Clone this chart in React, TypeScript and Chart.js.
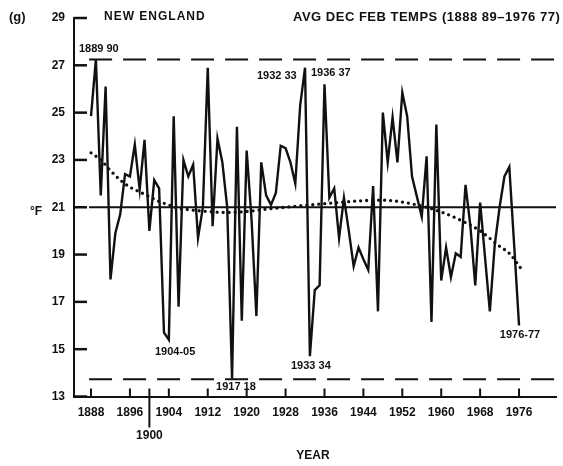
import React, { useEffect, useRef } from "react";
import { Chart, registerables } from "chart.js";

Chart.register(...registerables);

// ---------- data ----------
const FIRST_WINTER = 1888; // 1888-89 winter
const TEMPS = [
  24.85, 27.25, 21.5, 26.1, 17.95, 19.9, 20.7, 22.4, 22.3, 23.65,
  21.75, 23.85, 20.0, 22.15, 21.8, 15.7, 15.4, 24.85, 16.8, 23.0,
  22.3, 22.8, 19.7, 21.0, 26.9, 20.2, 23.9, 22.9, 21.0, 13.75,
  24.4, 16.2, 23.4, 20.5, 16.4, 22.9, 21.5, 21.1, 21.6, 23.6,
  23.5, 22.9, 22.0, 25.3, 26.9, 14.7, 17.5, 17.7, 26.2, 21.4,
  21.8, 19.7, 21.4, 20.0, 18.5, 19.3, 18.8, 18.35, 21.9, 16.6,
  25.0, 22.9, 24.8, 22.9, 25.85, 24.85, 22.3, 21.45, 20.6, 23.15,
  16.15, 24.5, 17.9, 19.3, 18.05, 19.05, 18.9, 21.95, 20.2, 17.7,
  21.2, 18.9, 16.6, 19.4, 21.0, 22.3, 22.7, 19.4, 16.0,
];
const TREND_YEARS = [
  1888, 1890, 1892, 1894, 1896, 1898, 1900, 1902, 1904, 1906, 1908, 1912,
  1916, 1920, 1924, 1928, 1932, 1936, 1940, 1944, 1948, 1952, 1956, 1960,
  1964, 1968, 1972, 1974, 1976.8,
];
const TREND_VALUES = [
  23.3, 23.0, 22.55, 22.15, 21.85, 21.65, 21.45, 21.25, 21.1, 20.95, 20.9, 20.82,
  20.78, 20.82, 20.92, 21.0, 21.08, 21.15, 21.22, 21.28, 21.3, 21.22, 21.05, 20.8,
  20.45, 20.0, 19.35, 19.05, 18.3,
];
const MEAN_TEMP = 21.0;
const RECORD_HIGH = 27.25;
const RECORD_LOW = 13.73;
const X_TICKS = [1888, 1896, 1904, 1912, 1920, 1928, 1936, 1944, 1952, 1960, 1968, 1976];
const Y_TICKS = [13, 15, 17, 19, 21, 23, 25, 27, 29];
const MARK_YEAR = 1900;
const LABELS = [
  { text: "1889 90", year: 1889.6, temp: 27.67 },
  { text: "1932 33", year: 1926.2, temp: 26.55 },
  { text: "1936 37", year: 1937.3, temp: 26.68 },
  { text: "1904-05", year: 1905.3, temp: 14.88 },
  { text: "1917 18", year: 1917.8, temp: 13.4 },
  { text: "1933 34", year: 1933.2, temp: 14.29 },
  { text: "1976-77", year: 1976.2, temp: 15.6 },
];
const PANEL = "(g)";
const REGION = "NEW ENGLAND";
const TITLE = "AVG DEC FEB TEMPS (1888 89\u20131976 77)";
const X_TITLE = "YEAR";
const Y_TITLE = "\u00b0F";

// ---------- style ----------
const INK = "#111111";
const FONT = "'Liberation Sans', Arial, sans-serif";
const X_MIN = 1884.5;
const X_MAX = 1983.6;

const decor = {
  id: "decor",
  afterDraw(chart: any) {
    const { ctx, chartArea, scales } = chart;
    const x = scales.x;
    const y = scales.y;
    ctx.save();
    ctx.strokeStyle = INK;
    ctx.fillStyle = INK;
    ctx.lineCap = "butt";

    // inner y ticks
    ctx.lineWidth = 2.5;
    Y_TICKS.forEach((v) => {
      const py = y.getPixelForValue(v);
      ctx.beginPath();
      ctx.moveTo(chartArea.left, py);
      ctx.lineTo(chartArea.left + 13, py);
      ctx.stroke();
    });
    // inner x ticks
    ctx.lineWidth = 2;
    X_TICKS.forEach((v) => {
      const px = x.getPixelForValue(v);
      ctx.beginPath();
      ctx.moveTo(px, chartArea.bottom);
      ctx.lineTo(px, chartArea.bottom - 8);
      ctx.stroke();
    });
    // 1900 marker
    const pm = x.getPixelForValue(MARK_YEAR);
    ctx.beginPath();
    ctx.moveTo(pm, chartArea.bottom - 8);
    ctx.lineTo(pm, chartArea.bottom + 31);
    ctx.stroke();

    ctx.textAlign = "center";
    ctx.textBaseline = "middle";
    ctx.font = `bold 12px ${FONT}`;
    ctx.fillText(String(MARK_YEAR), pm, 436);
    ctx.fillText(X_TITLE, 313, 456);

    // annotations
    ctx.font = `bold 11px ${FONT}`;
    LABELS.forEach((l) => {
      ctx.fillText(l.text, x.getPixelForValue(l.year), y.getPixelForValue(l.temp));
    });

    // titles
    ctx.textAlign = "left";
    ctx.font = `bold 13px ${FONT}`;
    ctx.fillText(PANEL, 9, 17);
    ctx.font = `bold 12px ${FONT}`;
    (ctx as any).letterSpacing = "1px";
    ctx.fillText(REGION, 104, 17);
    ctx.font = `bold 13px ${FONT}`;
    (ctx as any).letterSpacing = "0.5px";
    ctx.fillText(TITLE, 293, 17);
    (ctx as any).letterSpacing = "0px";
    ctx.font = `bold 12px ${FONT}`;
    ctx.fillText(Y_TITLE, 30, 212);
    ctx.restore();
  },
};

export default function App() {
  const ref = useRef<HTMLCanvasElement | null>(null);
  useEffect(() => {
    if (!ref.current) return;
    const main = TEMPS.map((t, i) => ({ x: FIRST_WINTER + i, y: t }));
    const trend = TREND_YEARS.map((yr, i) => ({ x: yr, y: TREND_VALUES[i] }));
    const hLine = (v: number) => [
      { x: FIRST_WINTER - 0.4, y: v },
      { x: X_MAX, y: v },
    ];
    const chart = new Chart(ref.current, {
      type: "line",
      data: {
        datasets: [
          {
            data: main,
            borderColor: INK,
            borderWidth: 2.4,
            pointRadius: 0,
            tension: 0,
          },
          {
            data: trend,
            borderColor: INK,
            borderWidth: 3.3,
            borderDash: [0, 6],
            borderCapStyle: "round",
            pointRadius: 0,
            cubicInterpolationMode: "monotone",
          },
          {
            data: hLine(MEAN_TEMP),
            borderColor: INK,
            borderWidth: 2,
            pointRadius: 0,
          },
          {
            data: hLine(RECORD_HIGH),
            borderColor: INK,
            borderWidth: 2,
            borderDash: [23, 11],
            pointRadius: 0,
          },
          {
            data: hLine(RECORD_LOW),
            borderColor: INK,
            borderWidth: 2,
            borderDash: [23, 11],
            pointRadius: 0,
          },
        ] as any,
      },
      options: {
        responsive: false,
        animation: false,
        events: [],
        layout: { padding: { left: 0, top: 18, right: 7, bottom: 0 } },
        plugins: { legend: { display: false }, tooltip: { enabled: false }, title: { display: false } },
        scales: {
          x: {
            type: "linear",
            min: X_MIN,
            max: X_MAX,
            afterBuildTicks: (s: any) => {
              s.ticks = X_TICKS.map((v) => ({ value: v }));
            },
            afterFit: (s: any) => {
              s.height = 69.5;
            },
            grid: { display: false, drawTicks: false },
            border: { display: true, color: INK, width: 2 },
            ticks: {
              autoSkip: false,
              maxRotation: 0,
              padding: 9,
              color: INK,
              font: { family: FONT, size: 12, weight: "bold" },
              callback: (v: any) => String(v),
            },
          },
          y: {
            type: "linear",
            min: 13,
            max: 29,
            afterBuildTicks: (s: any) => {
              s.ticks = Y_TICKS.map((v) => ({ value: v }));
            },
            afterFit: (s: any) => {
              s.width = 74;
            },
            grid: { display: false, drawTicks: false },
            border: { display: true, color: INK, width: 2 },
            ticks: {
              padding: 9,
              color: INK,
              font: { family: FONT, size: 12, weight: "bold" },
              callback: (v: any) => String(v),
            },
          },
        },
      } as any,
      plugins: [decor],
    });
    return () => chart.destroy();
  }, []);
  return (
    <div style={{ position: "fixed", left: 0, top: 0, width: 563, height: 466, background: "#fff" }}>
      <canvas ref={ref} width={563} height={466} style={{ display: "block" }} />
    </div>
  );
}
